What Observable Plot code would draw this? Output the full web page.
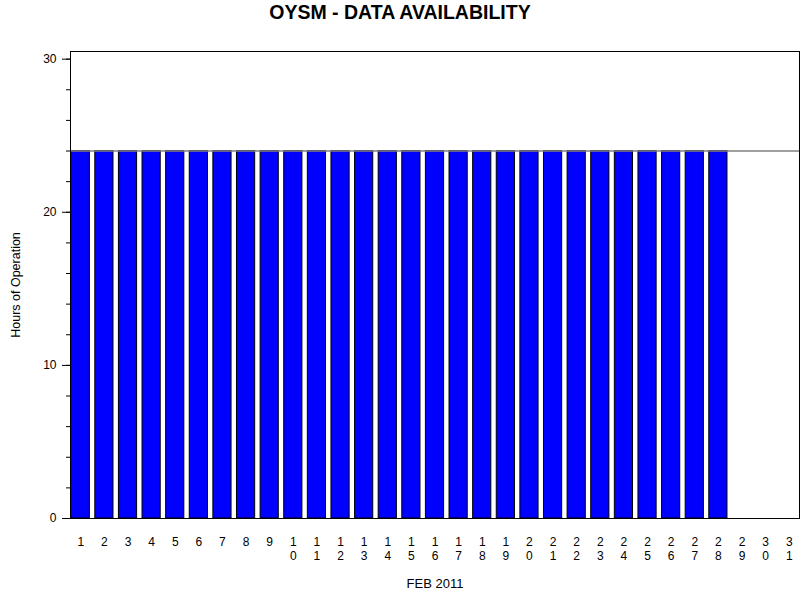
<!DOCTYPE html>
<html>
<head>
<meta charset="utf-8">
<script src="https://cdn.jsdelivr.net/npm/d3@7"></script>
<script src="https://cdn.jsdelivr.net/npm/@observablehq/plot@0.6"></script>
<style>
  body { margin: 0; background: #fff; }
  #wrap { position: relative; width: 800px; height: 600px; font-family: "Liberation Sans", Arial, sans-serif; }
  #title { position: absolute; left: 0; top: 0; width: 800px; text-align: center; font-weight: bold; font-size: 19.5px; line-height: 24px; color: #000; }
  #chart { position: absolute; left: 0; top: 0; }
</style>
</head>
<body>
<div id="wrap">
  <div id="chart"></div>
  <div id="title">OYSM - DATA AVAILABILITY</div>
</div>
<script>
const days = [1,2,3,4,5,6,7,8,9,10,11,12,13,14,15,16,17,18,19,20,21,22,23,24,25,26,27,28,29,30,31];
const dataDays = [1,2,3,4,5,6,7,8,9,10,11,12,13,14,15,16,17,18,19,20,21,22,23,24,25,26,27,28];
const hours = [24,24,24,24,24,24,24,24,24,24,24,24,24,24,24,24,24,24,24,24,24,24,24,24,24,24,24,24];
const yMajorTicks = [0,10,20,30];
const yMinorTicks = [0,2,4,6,8,10,12,14,16,18,20,22,24,26,28,30];
const referenceHours = [24];

const data = dataDays.map((d, i) => ({day: d, hours: hours[i]}));

const chart = Plot.plot({
  width: 800,
  height: 600,
  marginLeft: 70,
  marginRight: 1,
  marginTop: 51,
  marginBottom: 82,
  style: {fontFamily: "Liberation Sans, Arial, sans-serif", fontSize: "12px", color: "#000", background: "#fff"},
  x: {type: "band", domain: days, paddingInner: 0.23, paddingOuter: 0.05, align: 0.5, round: false},
  y: {domain: [0, 30.5]},
  marks: [
    Plot.barY(data, {x: "day", y: "hours", fill: "#0000ff", stroke: "#000", strokeWidth: 1}),
    Plot.ruleY(referenceHours, {stroke: "#808080", strokeWidth: 1.5}),
    Plot.axisY({ticks: yMinorTicks, tickSize: 4, text: null, label: null}),
    Plot.axisY({ticks: yMajorTicks, tickSize: 8, tickPadding: 6, fontSize: 12, label: null}),
    Plot.axisY({ticks: [], tickSize: 0, label: "Hours of Operation", labelAnchor: "center", labelArrow: "none", labelOffset: 59, fontSize: 12.5}),
    Plot.axisX({tickSize: 0, tickPadding: 17, tickFormat: d => String(d).split("").join("\n"), lineHeight: 1.2, fontSize: 12, label: null}),
    Plot.axisX({ticks: [], tickSize: 0, label: "FEB 2011", labelAnchor: "center", labelArrow: "none", labelOffset: 69, fontSize: 13}),
    Plot.frame({stroke: "#000", strokeWidth: 1})
  ]
});
document.getElementById("chart").appendChild(chart);
</script>
</body>
</html>
